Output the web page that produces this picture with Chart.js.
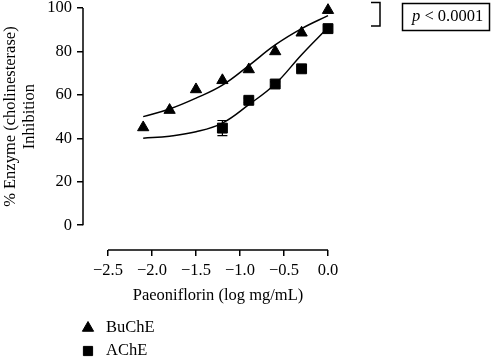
<!DOCTYPE html>
<html>
<head>
<meta charset="utf-8">
<script src="https://cdn.jsdelivr.net/npm/chart.js@4.4.1/dist/chart.umd.min.js"></script>
<style>
  html, body { margin: 0; padding: 0; background: #fff; }
  #wrap { width: 491px; height: 357px; }
</style>
</head>
<body>
<div id="wrap"><canvas id="doseChart"></canvas></div>
<script>
// dose (log mg/mL) and % inhibition
const doseLog = [-2.1, -1.8, -1.5, -1.2, -0.9, -0.6, -0.3, 0];
const buche = [45, 53, 62.5, 66.7, 71.7, 80, 88.6, 99];
const acheDose = [-1.2, -0.9, -0.6, -0.3, 0];
const ache = [44.7, 57.5, 65, 72, 90.5];
const acheErr = [3.5, 1, 1, 1, 1];
// fitted curves as drawn
const bucheFit = [50, 53.5, 58.5, 64.5, 73.5, 83, 90.5, 96.5];
const acheFit = [40, 41, 43, 47, 55.5, 65, 78.5, 91];
const xTicks = [-2.5, -2.0, -1.5, -1.0, -0.5, 0];
const yTicks = [0, 20, 40, 60, 80, 100];

const serif = '"Liberation Serif", "Times New Roman", serif';
Chart.defaults.font.family = serif;
Chart.defaults.font.size = 16.5;
Chart.defaults.color = '#000';

const fmtX = v => (v < 0 ? '\u2212' : '') + Math.abs(v).toFixed(1);

const extras = {
  id: 'extras',
  beforeDatasetsDraw(chart) {
    const { ctx, scales: { x, y } } = chart;
    ctx.save();
    ctx.strokeStyle = '#000';
    ctx.lineWidth = 1.5;
    // axis lines only over the tick range
    ctx.beginPath();
    ctx.moveTo(chart.chartArea.left, y.getPixelForValue(0));
    ctx.lineTo(chart.chartArea.left, y.getPixelForValue(100));
    ctx.moveTo(x.getPixelForValue(-2.5), chart.chartArea.bottom);
    ctx.lineTo(x.getPixelForValue(0), chart.chartArea.bottom);
    ctx.stroke();
    // error bars for AChE
    ctx.lineWidth = 1.2;
    acheDose.forEach((d, i) => {
      const px = x.getPixelForValue(d);
      const lo = y.getPixelForValue(ache[i] - acheErr[i]);
      const hi = y.getPixelForValue(ache[i] + acheErr[i]);
      ctx.beginPath();
      ctx.moveTo(px, lo); ctx.lineTo(px, hi);
      ctx.moveTo(px - 5, lo); ctx.lineTo(px + 5, lo);
      ctx.moveTo(px - 5, hi); ctx.lineTo(px + 5, hi);
      ctx.stroke();
    });
    ctx.restore();
  },
  afterDraw(chart) {
    const { ctx, scales: { x, y } } = chart;
    ctx.save();
    ctx.fillStyle = '#000';
    ctx.strokeStyle = '#000';
    ctx.font = '16.5px ' + serif;
    ctx.textBaseline = 'middle';

    // x title, centred on the drawn axis
    ctx.textAlign = 'center';
    ctx.fillText('Paeoniflorin (log mg/mL)', (x.getPixelForValue(-2.5) + x.getPixelForValue(0)) / 2, 296);

    // y title, two lines
    const cy = (y.getPixelForValue(0) + y.getPixelForValue(100)) / 2;
    ctx.save();
    ctx.translate(11, cy);
    ctx.rotate(-Math.PI / 2);
    ctx.fillText('% Enzyme (cholinesterase)', 0, 0);
    ctx.fillText('Inhibition', 0, 19);
    ctx.restore();

    // legend
    ctx.textAlign = 'left';
    const legend = [
      { label: 'BuChE', style: 'triangle', r: 6.5, y: 328 },
      { label: 'AChE', style: 'rect', r: 6.5, y: 351 }
    ];
    legend.forEach(it => {
      Chart.helpers.drawPoint(ctx, { pointStyle: it.style, radius: it.r, rotation: 0, borderWidth: 1 }, 88, it.y);
      ctx.fillText(it.label, 106, it.y);
    });

    // bracket and p-value box
    ctx.lineWidth = 1.5;
    ctx.beginPath();
    ctx.moveTo(371, 2.5); ctx.lineTo(380, 2.5);
    ctx.lineTo(380, 26); ctx.lineTo(371, 26);
    ctx.stroke();
    ctx.strokeRect(402.5, 3.5, 87, 27);
    ctx.font = 'italic 16.5px ' + serif;
    ctx.fillText('p', 412, 17);
    const pw = ctx.measureText('p').width;
    ctx.font = '16.5px ' + serif;
    ctx.fillText(' < 0.0001', 412 + pw, 17);
    ctx.restore();
  }
};

new Chart(document.getElementById('doseChart').getContext('2d'), {
  type: 'scatter',
  data: {
    datasets: [
      {
        label: 'BuChE',
        data: doseLog.map((d, i) => ({ x: d, y: buche[i] })),
        pointStyle: 'triangle',
        pointRadius: 6.5,
        backgroundColor: '#000',
        borderColor: '#000',
        clip: false
      },
      {
        label: 'AChE',
        data: acheDose.map((d, i) => ({ x: d, y: ache[i] })),
        pointStyle: 'rect',
        pointRadius: 7,
        backgroundColor: '#000',
        borderColor: '#000',
        clip: false
      },
      {
        label: 'BuChE fit',
        data: doseLog.map((d, i) => ({ x: d, y: bucheFit[i] })),
        showLine: true,
        pointRadius: 0,
        borderColor: '#000',
        borderWidth: 1.5,
        tension: 0.4,
        clip: false
      },
      {
        label: 'AChE fit',
        data: doseLog.map((d, i) => ({ x: d, y: acheFit[i] })),
        showLine: true,
        pointRadius: 0,
        borderColor: '#000',
        borderWidth: 1.5,
        tension: 0.4,
        clip: false
      }
    ]
  },
  options: {
    responsive: true,
    maintainAspectRatio: false,
    animation: false,
    layout: { padding: { left: 0, right: 163, top: 6, bottom: 50 } },
    plugins: {
      legend: { display: false },
      tooltip: { enabled: false }
    },
    scales: {
      x: {
        type: 'linear',
        min: -2.784,
        max: 0,
        afterBuildTicks: s => { s.ticks = xTicks.map(v => ({ value: v })); },
        afterFit: s => { s.height = 57; s.paddingLeft = 0; s.paddingRight = 0; },
        grid: { drawOnChartArea: false, tickLength: 6, color: '#000', lineWidth: 1.5 },
        border: { display: false },
        ticks: { padding: 5, maxRotation: 0, callback: v => fmtX(v) }
      },
      y: {
        min: -11.42,
        max: 100,
        afterBuildTicks: s => { s.ticks = yTicks.map(v => ({ value: v })); },
        afterFit: s => { s.width = 83; s.paddingTop = 0; s.paddingBottom = 0; },
        grid: { drawOnChartArea: false, tickLength: 6, color: '#000', lineWidth: 1.5 },
        border: { display: false },
        ticks: { padding: 5 }
      }
    }
  },
  plugins: [extras]
});
</script>
</body>
</html>
